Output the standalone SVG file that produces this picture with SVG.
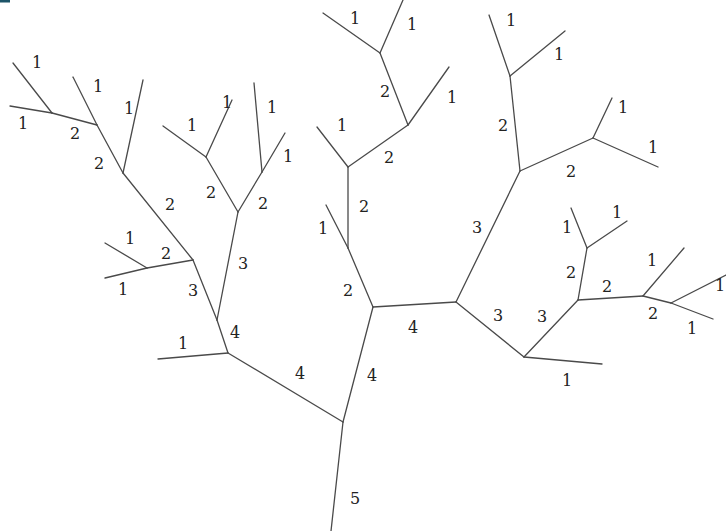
<svg xmlns="http://www.w3.org/2000/svg" width="726" height="531" viewBox="0 0 726 531">
<style>
.e{stroke:#4a4a4a;stroke-width:1.3;fill:none;stroke-linecap:round}
.l{font-family:"DejaVu Serif",serif;font-size:16px;fill:#222;text-anchor:middle;dominant-baseline:central}
</style>
<rect width="726" height="531" fill="#ffffff"/>
<rect x="0" y="0" width="10" height="2.5" fill="#1d5468"/>
<g id="connectors">
<line class="e" x1="13" y1="63" x2="52" y2="113"/>
<line class="e" x1="10" y1="106" x2="52" y2="113"/>
<line class="e" x1="52" y1="113" x2="97" y2="125"/>
<line class="e" x1="73" y1="77" x2="97" y2="125"/>
<line class="e" x1="97" y1="125" x2="123" y2="173"/>
<line class="e" x1="143" y1="80" x2="123" y2="173"/>
<line class="e" x1="123" y1="173" x2="193" y2="260"/>
<line class="e" x1="105" y1="243" x2="147" y2="268"/>
<line class="e" x1="105" y1="278" x2="147" y2="268"/>
<line class="e" x1="147" y1="268" x2="193" y2="260"/>
<line class="e" x1="193" y1="260" x2="217" y2="320"/>
<line class="e" x1="163" y1="126" x2="206" y2="157"/>
<line class="e" x1="232" y1="100" x2="206" y2="157"/>
<line class="e" x1="206" y1="157" x2="238" y2="212"/>
<line class="e" x1="254" y1="83" x2="262" y2="172"/>
<line class="e" x1="285" y1="133" x2="262" y2="172"/>
<line class="e" x1="262" y1="172" x2="238" y2="212"/>
<line class="e" x1="238" y1="212" x2="217" y2="320"/>
<line class="e" x1="217" y1="320" x2="228" y2="353"/>
<line class="e" x1="158" y1="359" x2="228" y2="353"/>
<line class="e" x1="228" y1="353" x2="343" y2="422"/>
<line class="e" x1="343" y1="422" x2="331" y2="531"/>
<line class="e" x1="343" y1="422" x2="373" y2="307"/>
<line class="e" x1="323" y1="13" x2="380" y2="53"/>
<line class="e" x1="403" y1="0" x2="380" y2="53"/>
<line class="e" x1="380" y1="53" x2="408" y2="125"/>
<line class="e" x1="449" y1="67" x2="408" y2="125"/>
<line class="e" x1="408" y1="125" x2="348" y2="167"/>
<line class="e" x1="317" y1="127" x2="348" y2="167"/>
<line class="e" x1="348" y1="167" x2="348" y2="248"/>
<line class="e" x1="326" y1="205" x2="348" y2="248"/>
<line class="e" x1="348" y1="248" x2="373" y2="307"/>
<line class="e" x1="373" y1="307" x2="456" y2="302"/>
<line class="e" x1="456" y1="302" x2="520" y2="171"/>
<line class="e" x1="489" y1="15" x2="510" y2="76"/>
<line class="e" x1="565" y1="31" x2="510" y2="76"/>
<line class="e" x1="510" y1="76" x2="520" y2="171"/>
<line class="e" x1="520" y1="171" x2="593" y2="138"/>
<line class="e" x1="612" y1="98" x2="593" y2="138"/>
<line class="e" x1="593" y1="138" x2="658" y2="167"/>
<line class="e" x1="456" y1="302" x2="524" y2="357"/>
<line class="e" x1="524" y1="357" x2="602" y2="364"/>
<line class="e" x1="524" y1="357" x2="578" y2="300"/>
<line class="e" x1="578" y1="300" x2="587" y2="248"/>
<line class="e" x1="571" y1="208" x2="587" y2="248"/>
<line class="e" x1="627" y1="221" x2="587" y2="248"/>
<line class="e" x1="578" y1="300" x2="643" y2="296"/>
<line class="e" x1="684" y1="248" x2="643" y2="296"/>
<line class="e" x1="643" y1="296" x2="671" y2="303"/>
<line class="e" x1="671" y1="303" x2="713" y2="319"/>
<line class="e" x1="671" y1="303" x2="726" y2="275"/>
</g>
<g id="labels">
<text class="l" x="37" y="62">1</text>
<text class="l" x="23" y="123">1</text>
<text class="l" x="75" y="133">2</text>
<text class="l" x="98" y="86">1</text>
<text class="l" x="99" y="163">2</text>
<text class="l" x="129" y="108">1</text>
<text class="l" x="170" y="204">2</text>
<text class="l" x="130" y="238">1</text>
<text class="l" x="123" y="289">1</text>
<text class="l" x="166" y="253">2</text>
<text class="l" x="193" y="290">3</text>
<text class="l" x="192" y="125">1</text>
<text class="l" x="227" y="102">1</text>
<text class="l" x="211" y="192">2</text>
<text class="l" x="272" y="107">1</text>
<text class="l" x="288" y="156">1</text>
<text class="l" x="263" y="203">2</text>
<text class="l" x="243" y="263">3</text>
<text class="l" x="235" y="332">4</text>
<text class="l" x="183" y="343">1</text>
<text class="l" x="300" y="373">4</text>
<text class="l" x="355" y="498">5</text>
<text class="l" x="372" y="375">4</text>
<text class="l" x="355" y="18">1</text>
<text class="l" x="412" y="24">1</text>
<text class="l" x="385" y="91">2</text>
<text class="l" x="452" y="97">1</text>
<text class="l" x="389" y="157">2</text>
<text class="l" x="342" y="125">1</text>
<text class="l" x="364" y="206">2</text>
<text class="l" x="323" y="228">1</text>
<text class="l" x="348" y="290">2</text>
<text class="l" x="413" y="327">4</text>
<text class="l" x="477" y="227">3</text>
<text class="l" x="511" y="20">1</text>
<text class="l" x="559" y="54">1</text>
<text class="l" x="503" y="125">2</text>
<text class="l" x="571" y="171">2</text>
<text class="l" x="623" y="107">1</text>
<text class="l" x="653" y="147">1</text>
<text class="l" x="498" y="315">3</text>
<text class="l" x="567" y="380">1</text>
<text class="l" x="542" y="316">3</text>
<text class="l" x="571" y="272">2</text>
<text class="l" x="567" y="227">1</text>
<text class="l" x="617" y="212">1</text>
<text class="l" x="607" y="286">2</text>
<text class="l" x="652" y="260">1</text>
<text class="l" x="653" y="313">2</text>
<text class="l" x="692" y="328">1</text>
<text class="l" x="720" y="285">1</text>
</g>
</svg>
